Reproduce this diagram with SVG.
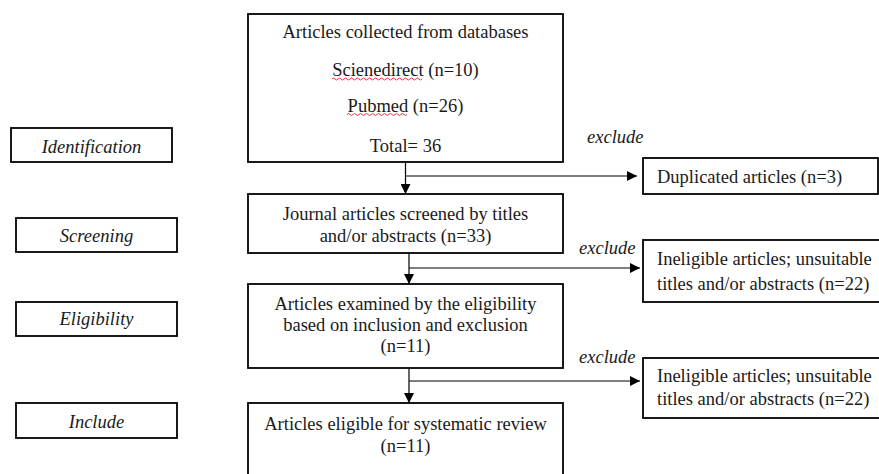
<svg xmlns="http://www.w3.org/2000/svg" width="879" height="474" viewBox="0 0 879 474" font-family="Liberation Serif, Times New Roman, serif">
<defs>
<style>
.box{fill:#fff;stroke:#000;stroke-width:1.8}
.t{font-size:18.5px;fill:#1a1a1a}
.c{text-anchor:middle}
.i{font-style:italic}
.ln{stroke:#000;stroke-width:1.2;fill:none}
.sq{stroke:#e02020;stroke-width:0.9;fill:none}
</style>
<marker id="ah" viewBox="0 0 10 10" refX="10" refY="5" markerWidth="10" markerHeight="10" markerUnits="userSpaceOnUse" orient="auto">
<path d="M0,0 L10,5 L0,10 z" fill="#000"/>
</marker>
</defs>
<rect width="879" height="474" fill="#fff"/>
<g id="stage-identification"><rect class="box" x="11" y="128" width="161" height="34"/><text class="t c i" x="91.5" y="153">Identification</text></g>
<g id="stage-screening"><rect class="box" x="16" y="218" width="161" height="34"/><text class="t c i" x="96.5" y="242">Screening</text></g>
<g id="stage-eligibility"><rect class="box" x="16" y="302" width="161" height="34"/><text class="t c i" x="96.5" y="325">Eligibility</text></g>
<g id="stage-include"><rect class="box" x="16" y="403" width="161" height="35"/><text class="t c i" x="96.5" y="428">Include</text></g>
<g id="collected"><rect class="box" x="248" y="14" width="315" height="148"/>
<text class="t c" x="405.5" y="38">Articles collected from databases</text>
<text class="t c" x="405.5" y="76">Scienedirect (n=10)</text>
<text class="t c" x="405.5" y="111.5">Pubmed (n=26)</text>
<text class="t c" x="405.5" y="152">Total= 36</text>
<path class="sq" d="M332,79 q1.5,-2 3,0 t3,0 t3,0 t3,0 t3,0 t3,0 t3,0 t3,0 t3,0 t3,0 t3,0 t3,0 t3,0 t3,0 t3,0 t3,0 t3,0 t3,0 t3,0 t3,0 t3,0 t3,0 t3,0 t3,0 t3,0 t3,0 t3,0 t3,0 t3,0 t3,0"/>
<path class="sq" d="M347,114.5 q1.5,-2 3,0 t3,0 t3,0 t3,0 t3,0 t3,0 t3,0 t3,0 t3,0 t3,0 t3,0 t3,0 t3,0 t3,0 t3,0 t3,0 t3,0 t3,0 t3,0 t3,0"/>
</g>
<g id="screened"><rect class="box" x="248" y="194" width="315" height="59"/>
<text class="t c" x="405.5" y="220">Journal articles screened by titles</text>
<text class="t c" x="405.5" y="242">and/or abstracts (n=33)</text></g>
<g id="examined"><rect class="box" x="248" y="284" width="315" height="84"/>
<text class="t c" x="405.5" y="310">Articles examined by the eligibility</text>
<text class="t c" x="405.5" y="331">based on inclusion and exclusion</text>
<text class="t c" x="405.5" y="352">(n=11)</text></g>
<g id="eligible"><rect class="box" x="248" y="403" width="315" height="80"/>
<text class="t c" x="405.5" y="430">Articles eligible for systematic review</text>
<text class="t c" x="405.5" y="452">(n=11)</text></g>
<g id="duplicated"><rect class="box" x="643" y="158" width="235" height="36"/>
<text class="t" x="657" y="183">Duplicated articles (n=3)</text></g>
<g id="ineligible-1"><rect class="box" x="643" y="240" width="245" height="62"/>
<text class="t" x="657" y="265">Ineligible articles; unsuitable</text>
<text class="t" x="657" y="290">titles and/or abstracts (n=22)</text></g>
<g id="ineligible-2"><rect class="box" x="643" y="358" width="245" height="60"/>
<text class="t" x="657" y="382">Ineligible articles; unsuitable</text>
<text class="t" x="657" y="405">titles and/or abstracts (n=22)</text></g>
<g id="connectors">
<line class="ln" x1="405.5" y1="162" x2="405.5" y2="194" marker-end="url(#ah)"/>
<line class="ln" x1="405.5" y1="176" x2="637" y2="176" marker-end="url(#ah)"/>
<line class="ln" x1="409" y1="253" x2="409" y2="284" marker-end="url(#ah)"/>
<line class="ln" x1="409" y1="268" x2="640" y2="268" marker-end="url(#ah)"/>
<line class="ln" x1="409" y1="368" x2="409" y2="403" marker-end="url(#ah)"/>
<line class="ln" x1="409" y1="381" x2="640" y2="381" marker-end="url(#ah)"/>
<text class="t i" x="587" y="143">exclude</text>
<text class="t i" x="579" y="254">exclude</text>
<text class="t i" x="579" y="363">exclude</text>
</g>
</svg>
